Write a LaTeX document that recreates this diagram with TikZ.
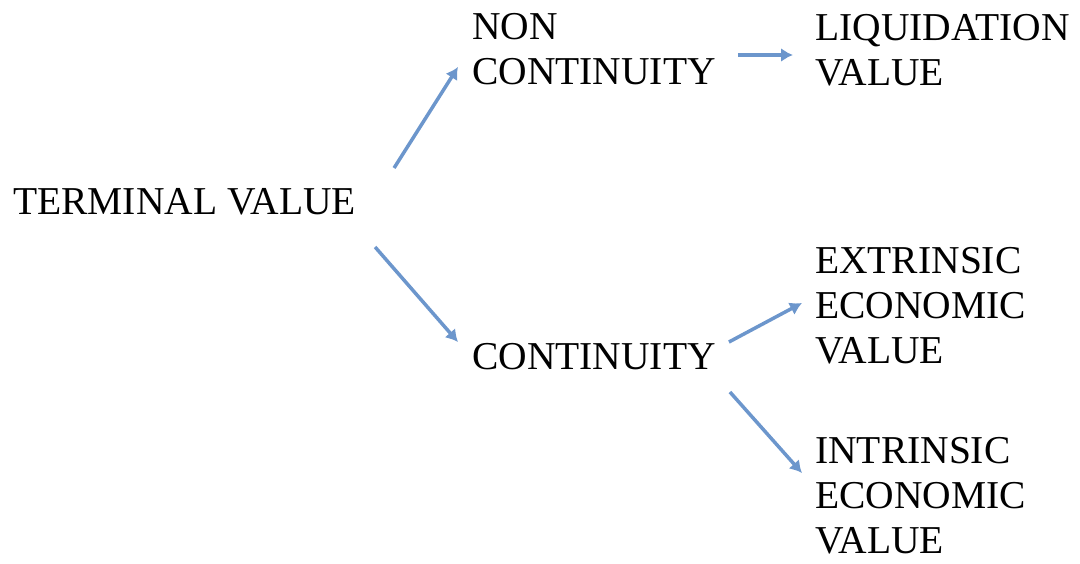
\documentclass[tikz,border=0pt]{standalone}
\usepackage{fontspec}
\setmainfont{Liberation Serif}
\usetikzlibrary{arrows.meta, positioning, calc}
\definecolor{arrblue}{RGB}{108, 150, 204}

\begin{document}
\begin{tikzpicture}[x=1pt, y=-1pt,
  lbl/.style={anchor=base west, inner sep=0pt, align=left, font=\fontsize{39.5}{45}\selectfont},
  conn/.style={draw=arrblue, line width=3.5pt, -{Latex[length=12pt, width=14pt]}}
]
  \useasboundingbox (0, 0) rectangle (1080, 564);

  \node[lbl] (tv) at (13, 215) {TERMINAL VALUE};
  \node[lbl] (nc) at (472, 85) {NON\\CONTINUITY};
  \node[lbl] (lv) at (815, 86) {LIQUIDATION\\VALUE};
  \node[lbl] (ct) at (472, 370) {CONTINUITY};
  \node[lbl] (ev) at (815, 363) {EXTRINSIC\\ECONOMIC\\VALUE};
  \node[lbl] (iv) at (815, 553) {INTRINSIC\\ECONOMIC\\VALUE};

  % arrows
  \draw[conn] ([shift={(38, -47)}]tv.base east) -- ([shift={(-14, -18)}]nc.base west);
  \draw[conn] ([shift={(22, -30)}]nc.base east) -- ([shift={(-22, -31)}]lv.base west);
  \draw[conn] ([shift={(19, 32)}]tv.base east) -- ([shift={(-14, -28)}]ct.base west);
  \draw[conn] ([shift={(13, -28)}]ct.base east) -- ([shift={(-13, -60)}]ev.base west);
  \draw[conn] ([shift={(14, 22)}]ct.base east) -- ([shift={(-13, -80)}]iv.base west);
\end{tikzpicture}
\end{document}
